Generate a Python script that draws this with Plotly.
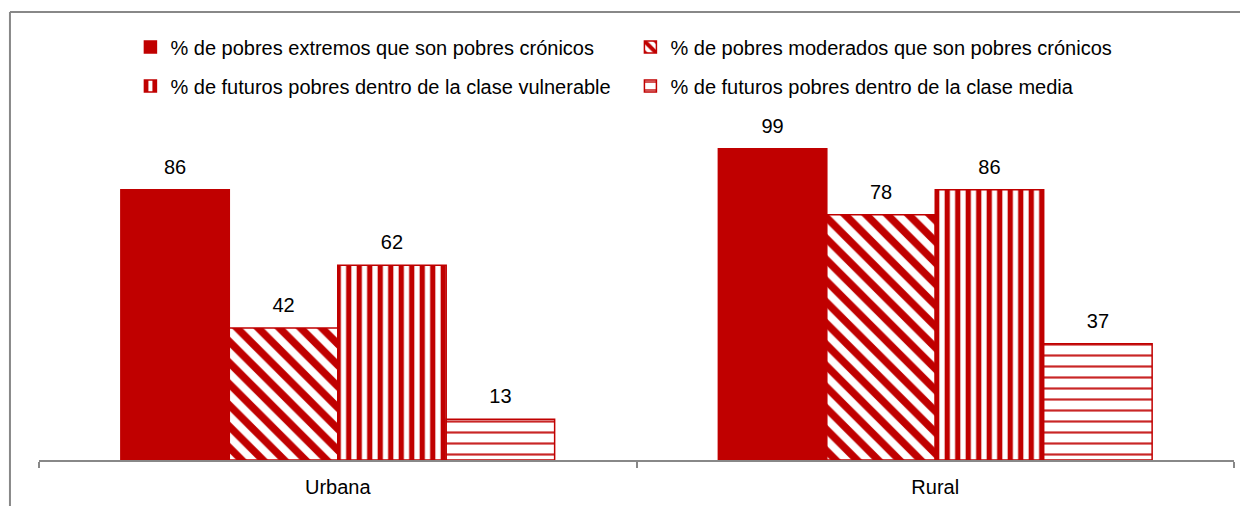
import plotly.graph_objects as go

categories = ["Urbana", "Rural"]
series_names = [
    "% de pobres extremos que son pobres crónicos",
    "% de pobres moderados que son pobres crónicos",
    "% de futuros pobres dentro de la clase vulnerable",
    "% de futuros pobres dentro de la clase media",
]
extremos_cronicos = [86, 99]
moderados_cronicos = [42, 78]
futuros_vulnerable = [62, 86]
futuros_media = [13, 37]

RED = "#C00000"
FONT = "Arial, Liberation Sans, sans-serif"

values = [extremos_cronicos, moderados_cronicos, futuros_vulnerable, futuros_media]
patterns = [
    dict(shape=""),
    dict(shape="\\", fgcolor=RED, bgcolor="white", fgopacity=1, size=15, solidity=0.5),
    dict(shape="|", fgcolor=RED, bgcolor="white", fgopacity=1, size=10.5, solidity=0.5),
    dict(shape="-", fgcolor=RED, bgcolor="white", fgopacity=0.85, size=11, solidity=0.2),
]
legends = ["legend", "legend", "legend2", "legend2"]

fig = go.Figure()
for i, (name, vals, pat, lg) in enumerate(zip(series_names, values, patterns, legends)):
    fig.add_trace(go.Bar(
        x=categories, y=vals, name=name, legend=lg, offsetgroup=str(i),
        marker=dict(color=RED, line=dict(color=RED, width=1.5), pattern=pat),
        hoverinfo="x+y+name",
    ))
# value labels (grouped scatter text aligned with the bars)
for i, vals in enumerate(values):
    fig.add_trace(go.Scatter(
        x=categories, y=vals, mode="markers+text", offsetgroup=str(i),
        text=[str(v) for v in vals], textposition="top center",
        textfont=dict(size=20, color="black", family=FONT),
        marker=dict(size=16, opacity=0), showlegend=False, hoverinfo="skip",
        cliponaxis=False,
    ))

fig.update_layout(
    width=1240, height=498,
    margin=dict(l=31, r=14, t=122, b=46),
    paper_bgcolor="white", plot_bgcolor="white",
    font=dict(family=FONT, size=20, color="black"),
    barmode="group", bargap=0.274, bargroupgap=0,
    scattermode="group", scattergap=0.274,
    showlegend=True,
    legend=dict(orientation="h", x=0.0765, xanchor="left", y=1.2515, yanchor="middle",
                entrywidth=455, font=dict(size=20, family=FONT, color="black"),
                bgcolor="rgba(0,0,0,0)"),
    legend2=dict(orientation="h", x=0.0765, xanchor="left", y=1.1333, yanchor="middle",
                 entrywidth=455, font=dict(size=20, family=FONT, color="black"),
                 bgcolor="rgba(0,0,0,0)"),
    xaxis=dict(showline=True, linecolor="#888888", linewidth=1.5, automargin=False,
               ticks="outside", tickson="boundaries", ticklen=6, tickcolor="#888888",
               tickwidth=1.5, ticklabelstandoff=8,
               tickfont=dict(size=20, family=FONT, color="black"),
               showgrid=False, fixedrange=True),
    yaxis=dict(range=[0, 105], visible=False, showgrid=False, fixedrange=True,
               automargin=False),
    shapes=[
        dict(type="line", xref="paper", yref="paper", x0=-0.0243, x1=1.05, y0=1.3576, y1=1.3576,
             line=dict(color="#888888", width=2)),
        dict(type="line", xref="paper", yref="paper", x0=-0.0243, x1=-0.0243, y0=1.3576, y1=-0.25,
             line=dict(color="#888888", width=2)),
    ],
)

fig.write_html("out.html")
